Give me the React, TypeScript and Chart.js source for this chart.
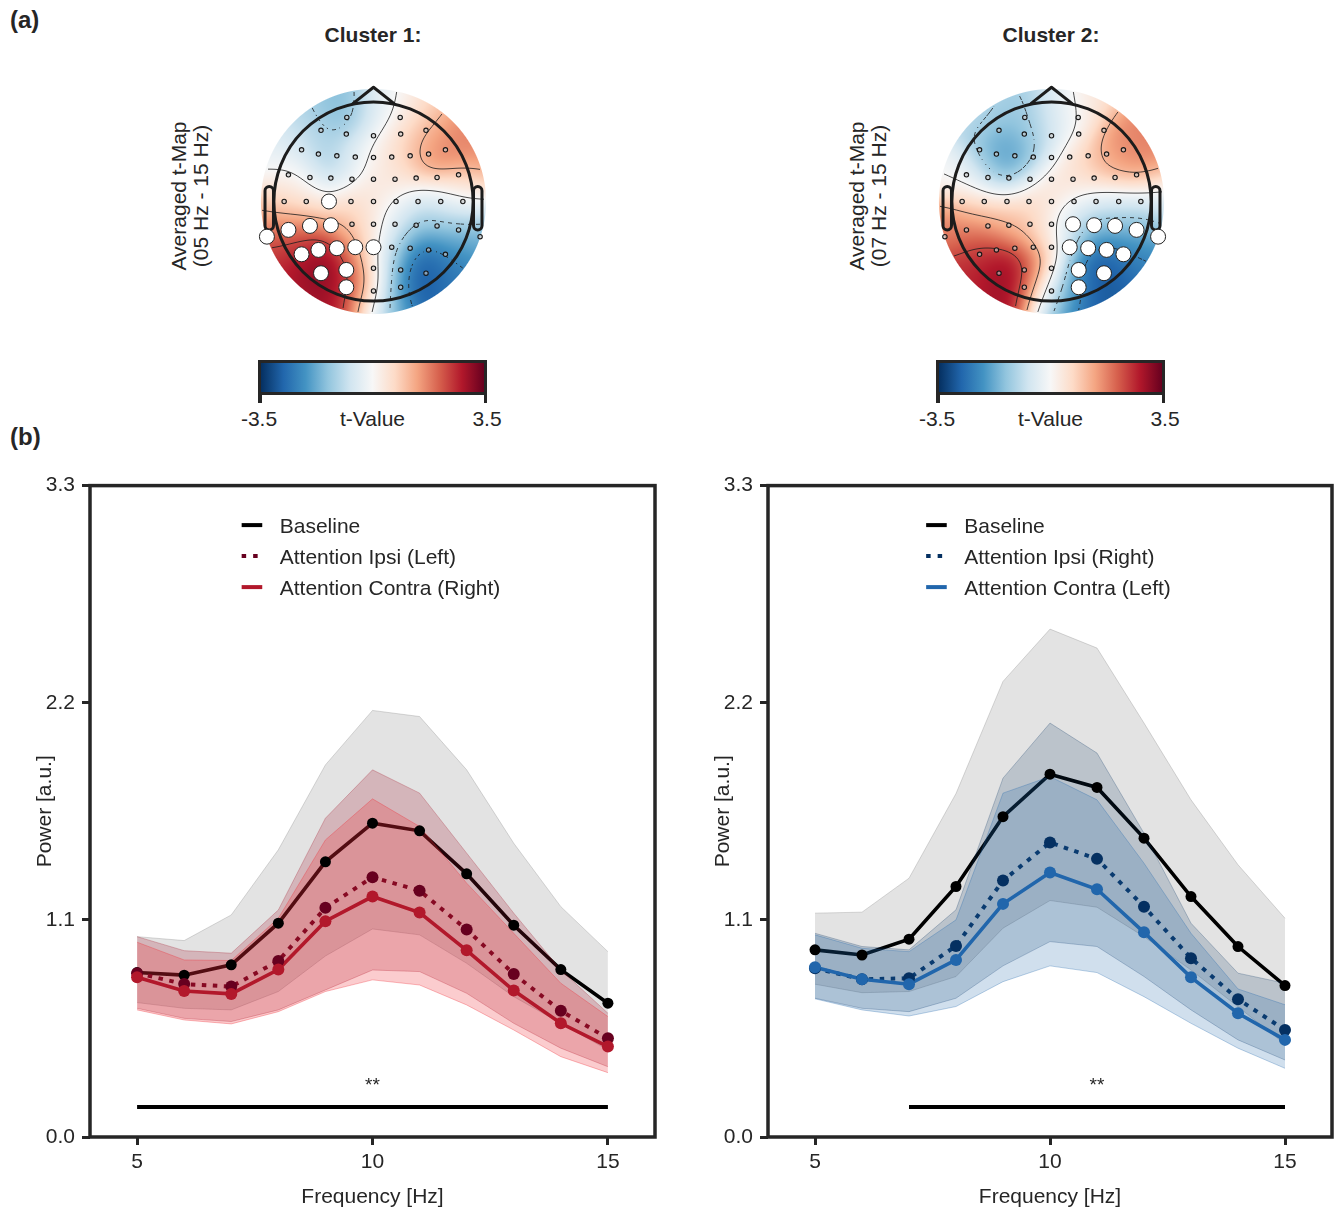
import React, { useEffect, useRef } from "react";
import { Chart, registerables } from "chart.js";
Chart.register(...registerables);

const FONT = "'Liberation Sans', Arial, Helvetica, sans-serif";
const INK = "#262626";

// ---------------- (b) spectra ----------------
const freqs = [5, 6, 7, 8, 9, 10, 11, 12, 13, 14, 15];
const xTicks = [5, 10, 15];
const yTicks = [0, 1.1, 2.2, 3.3];

// Cluster 1 (left hemisphere electrodes)
const c1Baseline = [0.833, 0.82, 0.872, 1.083, 1.394, 1.59, 1.551, 1.333, 1.073, 0.848, 0.678];
const c1Ipsi = [0.83, 0.775, 0.762, 0.892, 1.161, 1.316, 1.248, 1.051, 0.826, 0.639, 0.5];
const c1Contra = [0.809, 0.74, 0.725, 0.848, 1.093, 1.218, 1.137, 0.946, 0.742, 0.576, 0.458];
const c1BaseHi = [1.015, 0.995, 1.125, 1.455, 1.885, 2.161, 2.13, 1.86, 1.488, 1.167, 0.939];
const c1BaseLo = [0.681, 0.652, 0.644, 0.737, 0.917, 1.054, 1.024, 0.88, 0.711, 0.576, 0.441];
const c1IpsiHi = [1.015, 0.944, 0.931, 1.15, 1.615, 1.86, 1.742, 1.438, 1.134, 0.846, 0.627];
const c1IpsiLo = [0.652, 0.601, 0.585, 0.644, 0.745, 0.846, 0.838, 0.728, 0.576, 0.45, 0.356];
const c1ContraHi = [0.987, 0.897, 0.894, 1.108, 1.505, 1.713, 1.573, 1.286, 1.032, 0.779, 0.61];
const c1ContraLo = [0.644, 0.593, 0.573, 0.635, 0.737, 0.796, 0.77, 0.669, 0.542, 0.407, 0.326];

// Cluster 2 (right hemisphere electrodes)
const c2Baseline = [0.948, 0.922, 1.002, 1.269, 1.623, 1.838, 1.771, 1.514, 1.218, 0.965, 0.767];
const c2Ipsi = [0.855, 0.799, 0.804, 0.968, 1.299, 1.492, 1.409, 1.167, 0.906, 0.698, 0.542];
const c2Contra = [0.86, 0.799, 0.774, 0.897, 1.181, 1.34, 1.255, 1.037, 0.809, 0.627, 0.492];
const c2BaseHi = [1.134, 1.139, 1.311, 1.74, 2.308, 2.573, 2.477, 2.097, 1.708, 1.379, 1.108];
const c2BaseLo = [0.774, 0.731, 0.737, 0.813, 1.058, 1.198, 1.164, 1.015, 0.846, 0.66, 0.47];
const c2IpsiHi = [1.032, 0.965, 0.948, 1.151, 1.818, 2.097, 1.945, 1.539, 1.083, 0.83, 0.779];
const c2IpsiLo = [0.703, 0.652, 0.635, 0.703, 0.867, 0.99, 0.965, 0.813, 0.644, 0.492, 0.39];
const c2ContraHi = [1.024, 0.956, 0.939, 1.1, 1.742, 1.826, 1.708, 1.387, 1.032, 0.75, 0.67];
const c2ContraLo = [0.7, 0.644, 0.613, 0.661, 0.787, 0.867, 0.833, 0.711, 0.576, 0.45, 0.348];

const legend1Labels = ["Baseline", "Attention Ipsi (Left)", "Attention Contra (Right)"];
const legend2Labels = ["Baseline", "Attention Ipsi (Right)", "Attention Contra (Left)"];

const sig1Range = [5, 15];
const sig2Range = [7, 15];
const sigY = 0.152;
const starY = 0.235;
const star1X = 10;
const star2X = 11;
const starText = "**";

// ---------------- (a) topomaps ----------------
const rdbuStops = ["#053061", "#2166ac", "#4393c3", "#92c5de", "#d1e5f0", "#f7f7f7", "#fddbc7", "#f4a582", "#d6604d", "#b2182b", "#67001f"];
const cbMin = -3.5;
const cbMax = 3.5;
const contourLevels = [-2.33, -1.17, 0, 1.17, 2.33];

const elecX = [
  -0.268, 0.268,
  -0.527, -0.273, 0, 0.273, 0.527,
  -0.722, -0.553, -0.368, -0.183, 0, 0.183, 0.368, 0.553, 0.722,
  -0.854, -0.638, -0.428, -0.216, 0, 0.216, 0.428, 0.638, 0.854,
  -0.897, -0.675, -0.447, -0.226, 0, 0.226, 0.447, 0.675, 0.897,
  -0.854, -0.638, -0.428, -0.216, 0, 0.216, 0.428, 0.638, 0.854,
  -1.07, -0.722, -0.553, -0.368, -0.183, 0, 0.183, 0.368, 0.553, 0.722, 1.07,
  -0.527, -0.273, 0, 0.273, 0.527,
  -0.273, 0, 0.273,
];
const elecY = [
  0.844, 0.844,
  0.714, 0.677, 0.66, 0.677, 0.714,
  0.519, 0.476, 0.459, 0.446, 0.442, 0.446, 0.459, 0.476, 0.519,
  0.268, 0.241, 0.235, 0.224, 0.224, 0.224, 0.235, 0.241, 0.268,
  0, 0, 0, 0, 0, 0, 0, 0, 0,
  -0.285, -0.245, -0.238, -0.228, -0.228, -0.228, -0.238, -0.245, -0.285,
  -0.353, -0.53, -0.486, -0.469, -0.459, -0.459, -0.459, -0.469, -0.486, -0.53, -0.353,
  -0.72, -0.687, -0.67, -0.687, -0.72,
  -0.861, -0.898, -0.861,
];
const sigElec1 = [27, 34, 35, 36, 43, 44, 45, 46, 47, 48, 54, 55, 59];
const sigElec2 = [39, 40, 41, 42, 49, 50, 51, 52, 53, 57, 58, 61];

// t-value anchor points of the interpolated maps (head units)
const topo1U = [-0.74, -0.4, -0.28, -0.57, -0.9, -1.04, 0.0, 0.13, 0.37, 0.57, 0.84, 1.04, 0.64, 0.44, 0.2, 0.2, 0.0, -0.2, -0.44, -0.67, -0.9, -0.23, 0.0, 0.27, 0.64, 0.94, 0.94,
  0.2, 0.44, 0.77, 1.04, 0.23, 0.5, 0.33, 0.77, 0.17, 0.84, 0.1, 0.05,
  -1.07, -0.67, -0.23, 0.0, -0.74, -1.04, -0.57, -0.3, -0.84, -0.4, -0.17, -0.1, -0.02, 0.02];
const topo1V = [0.94, 1.04, 0.84, 0.67, 0.57, 0.37, 0.84, 1.04, 1.0, 0.9, 0.7, 0.4, 0.44, 0.57, 0.64, 0.3, 0.44, 0.47, 0.34, 0.23, 0.13, 0.13, 0.0, 0.0, 0.0, 0.0, 0.13,
  -0.2, -0.23, -0.23, -0.3, -0.5, -0.64, -0.84, -0.77, -1.04, -0.5, -0.64, -0.27,
  -0.1, 0.0, -0.13, -0.23, -0.34, -0.5, -0.64, -0.7, -0.9, -1.04, -0.37, -0.84, -0.57, -1.04];
const topo1T = [-1.0, -1.5, -1.8, -0.9, -0.5, -0.2, -0.6, -0.3, 0.3, 1.0, 1.8, 1.7, 1.9, 1.2, 0.6, 0.5, 0.3, -0.4, -1.9, 0.0, 0.5, 0.2, 0.6, 0.3, -0.2, -0.1, 0.7,
  -0.9, -2.0, -1.5, -1.7, -2.6, -3.2, -3.2, -2.5, -2.6, -2.2, -1.1, -0.1,
  1.3, 0.7, 1.0, 0.6, 2.3, 2.5, 3.2, 3.4, 2.8, 3.0, 2.2, 2.4, 1.3, 0.5];

const topo2U = [-0.27, -0.5, -0.77, -0.54, -0.44, -0.27, -0.7, -0.97, -0.07, 0.0, 0.23, 0.44, 0.74, 0.9, 0.57, 0.23, 0.0, -0.23, 0.0, 0.3, 0.64, 1.04,
  0.23, 0.1, 0.5, 0.9, 0.37, 0.23, 0.57, 0.84, 0.08,
  -1.0, -0.77, -0.5, -0.23, -0.7, -0.27, -0.54, -0.9, -0.1, -0.03, 0.03];
const topo2V = [0.85, 1.02, 0.82, 0.55, 0.32, 0.49, 0.25, 0.28, 0.65, 0.95, 0.89, 1.02, 0.72, 0.35, 0.39, 0.42, 0.22, 0.08, -0.05, 0.02, -0.02, 0.02,
  -0.22, -0.35, -0.28, -0.22, -0.59, -0.89, -0.79, -0.52, -0.85,
  -0.25, -0.02, -0.12, -0.22, -0.45, -0.69, -0.79, -0.79, -0.45, -0.79, -0.28];
const topo2T = [-1.6, -1.1, -0.9, -1.8, -2.5, -1.9, -0.7, 0.0, -0.6, -0.5, 0.0, 0.5, 1.8, 1.8, 1.4, 0.6, 0.5, 0.5, 0.7, 0.4, -0.3, -0.2,
  -1.6, -0.9, -2.1, -1.7, -3.3, -3.2, -2.9, -2.4, -1.6,
  1.8, 1.0, 1.1, 1.2, 2.5, 3.4, 3.0, 2.6, 2.0, 1.2, 0.2];

const DISK_R = 1.13;
const RBF_SIGMA = 0.2;

function hexRgb(h: string): number[] {
  const n = parseInt(h.slice(1), 16);
  return [(n >> 16) & 255, (n >> 8) & 255, n & 255];
}
const RDBU_RGB = rdbuStops.map(hexRgb);
function tColor(t: number): number[] {
  const s = Math.min(1, Math.max(0, (t - cbMin) / (cbMax - cbMin))) * (RDBU_RGB.length - 1);
  const i = Math.min(RDBU_RGB.length - 2, Math.floor(s));
  const f = s - i;
  const a = RDBU_RGB[i];
  const b = RDBU_RGB[i + 1];
  return [a[0] + (b[0] - a[0]) * f, a[1] + (b[1] - a[1]) * f, a[2] + (b[2] - a[2]) * f];
}
function fieldAt(u: number, v: number, U: number[], V: number[], T: number[]): number {
  let sw = 1e-30;
  let st = 0;
  const k = 1 / (2 * RBF_SIGMA * RBF_SIGMA);
  for (let i = 0; i < U.length; i++) {
    const dx = u - U[i];
    const dy = v - V[i];
    const w = Math.exp(-(dx * dx + dy * dy) * k);
    sw += w;
    st += w * T[i];
  }
  return st / sw;
}

function makeTopoPlugin(U: number[], V: number[], T: number[]) {
  return {
    id: "topoField",
    beforeDatasetsDraw(chart: any) {
      const { ctx, chartArea: ca, scales } = chart;
      const xs = scales.x;
      const ys = scales.y;
      const cxp = xs.getPixelForValue(0);
      const cyp = ys.getPixelForValue(0);
      const ppu = xs.getPixelForValue(1) - cxp;
      const W = Math.round(ca.right - ca.left);
      const H = Math.round(ca.bottom - ca.top);
      const off = document.createElement("canvas");
      off.width = W;
      off.height = H;
      const octx = off.getContext("2d")!;
      const img = octx.createImageData(W, H);
      for (let j = 0; j < H; j++) {
        const v = (cyp - (ca.top + j + 0.5)) / ppu;
        for (let i = 0; i < W; i++) {
          const u = (ca.left + i + 0.5 - cxp) / ppu;
          const r = Math.sqrt(u * u + v * v);
          const a = Math.max(0, Math.min(1, (DISK_R - r) * ppu + 0.5));
          if (a <= 0) continue;
          const c = tColor(fieldAt(u, v, U, V, T));
          const k = (j * W + i) * 4;
          img.data[k] = c[0];
          img.data[k + 1] = c[1];
          img.data[k + 2] = c[2];
          img.data[k + 3] = Math.round(a * 255);
        }
      }
      octx.putImageData(img, 0, 0);
      ctx.drawImage(off, ca.left, ca.top);

      // contour lines (marching squares)
      const step = 2;
      const nx = Math.floor(W / step) + 1;
      const ny = Math.floor(H / step) + 1;
      const g = new Float32Array(nx * ny);
      for (let j = 0; j < ny; j++) {
        for (let i = 0; i < nx; i++) {
          const u = (ca.left + i * step - cxp) / ppu;
          const v = (cyp - (ca.top + j * step)) / ppu;
          g[j * nx + i] = fieldAt(u, v, U, V, T);
        }
      }
      ctx.save();
      ctx.lineWidth = 0.9;
      ctx.strokeStyle = "rgba(30,30,30,0.9)";
      for (const L of contourLevels) {
        const dashed = L < 0;
        ctx.beginPath();
        for (let j = 0; j < ny - 1; j++) {
          for (let i = 0; i < nx - 1; i++) {
            const px = ca.left + i * step;
            const py = ca.top + j * step;
            const uc = (px + step / 2 - cxp) / ppu;
            const vc = (cyp - (py + step / 2)) / ppu;
            if (uc * uc + vc * vc > (DISK_R - 0.015) * (DISK_R - 0.015)) continue;
            if (dashed && (Math.floor(px / 4) + Math.floor(py / 4)) % 2 === 1) continue;
            const a = g[j * nx + i];
            const b = g[j * nx + i + 1];
            const c = g[(j + 1) * nx + i + 1];
            const d = g[(j + 1) * nx + i];
            const pts: number[][] = [];
            if ((a - L) * (b - L) < 0) pts.push([px + (step * (L - a)) / (b - a), py]);
            if ((b - L) * (c - L) < 0) pts.push([px + step, py + (step * (L - b)) / (c - b)]);
            if ((d - L) * (c - L) < 0) pts.push([px + (step * (L - d)) / (c - d), py + step]);
            if ((a - L) * (d - L) < 0) pts.push([px, py + (step * (L - a)) / (d - a)]);
            if (pts.length >= 2) {
              ctx.moveTo(pts[0][0], pts[0][1]);
              ctx.lineTo(pts[1][0], pts[1][1]);
              if (pts.length === 4) {
                ctx.moveTo(pts[2][0], pts[2][1]);
                ctx.lineTo(pts[3][0], pts[3][1]);
              }
            }
          }
        }
        ctx.stroke();
      }
      ctx.restore();

      // head outline, nose, ears
      ctx.save();
      ctx.strokeStyle = "#1c1c1c";
      ctx.lineWidth = 3;
      ctx.lineJoin = "round";
      ctx.beginPath();
      (ctx as any).roundRect(cxp - 1.089 * ppu, cyp - 0.15 * ppu, 0.085 * ppu, 0.435 * ppu, 0.042 * ppu);
      ctx.stroke();
      ctx.beginPath();
      (ctx as any).roundRect(cxp + 1.004 * ppu, cyp - 0.15 * ppu, 0.085 * ppu, 0.435 * ppu, 0.042 * ppu);
      ctx.stroke();
      ctx.beginPath();
      ctx.moveTo(cxp - 0.21 * ppu, cyp - 0.98 * ppu);
      ctx.lineTo(cxp, cyp - 1.147 * ppu);
      ctx.lineTo(cxp + 0.21 * ppu, cyp - 0.98 * ppu);
      ctx.stroke();
      ctx.beginPath();
      ctx.arc(cxp, cyp, ppu, 0, Math.PI * 2);
      ctx.stroke();
      ctx.restore();
    },
  };
}

function TopoMap({ cx, cy, U, V, T, sig }: { cx: number; cy: number; U: number[]; V: number[]; T: number[]; sig: number[] }) {
  const ref = useRef<HTMLCanvasElement>(null);
  useEffect(() => {
    const small = elecX.map((x, i) => ({ x, y: elecY[i] })).filter((_, i) => !sig.includes(i));
    const big = elecX.map((x, i) => ({ x, y: elecY[i] })).filter((_, i) => sig.includes(i));
    const chart = new Chart(ref.current!, {
      type: "scatter",
      data: {
        datasets: [
          { data: small, pointRadius: 2.2, pointBorderWidth: 1.1, pointBorderColor: "#161616", pointBackgroundColor: "rgba(200,200,200,0.6)", clip: false, order: 2 } as any,
          { data: big, pointRadius: 7.5, pointBorderWidth: 1, pointBorderColor: "#222", pointBackgroundColor: "#ffffff", clip: false, order: 1 } as any,
        ],
      },
      options: {
        responsive: false,
        animation: false,
        devicePixelRatio: 1,
        events: [],
        layout: { padding: 0, autoPadding: false },
        scales: {
          x: { type: "linear", min: -1.3, max: 1.3, display: false },
          y: { type: "linear", min: -1.3, max: 1.3, display: false },
        },
        plugins: { legend: { display: false }, tooltip: { enabled: false }, colors: { enabled: false } } as any,
      } as any,
      plugins: [makeTopoPlugin(U, V, T)],
    });
    return () => chart.destroy();
  }, []);
  return <canvas ref={ref} width={259} height={259} style={{ position: "absolute", left: cx - 129.5, top: cy - 129.5, width: 259, height: 259 }} />;
}

type PanelData = {
  baseline: number[]; ipsi: number[]; contra: number[];
  baseHi: number[]; baseLo: number[]; ipsiHi: number[]; ipsiLo: number[]; contraHi: number[]; contraLo: number[];
  ipsiColor: string; contraColor: string; ipsiFill: string; ipsiEdge: string; contraFill: string; contraEdge: string;
  labels: string[]; sig: number[]; starX: number;
};

const CANVAS_TOP = 466;
const CANVAS_H = 741;

function SpectrumChart({ left, width, padRight, p }: { left: number; width: number; padRight: number; p: PanelData }) {
  const ref = useRef<HTMLCanvasElement>(null);
  useEffect(() => {
    const pts = (a: number[]) => freqs.map((f, i) => ({ x: f, y: a[i] }));
    const grayFill = "rgba(128,128,128,0.22)";
    const grayEdge = "rgba(128,128,128,0.30)";
    const lineOpts = { pointRadius: 0, tension: 0, fill: false };
    const datasets: any[] = [
      { ...lineOpts, data: pts(p.baseHi), fill: 1, backgroundColor: grayFill, borderColor: grayEdge, borderWidth: 1, order: 90 },
      { ...lineOpts, data: pts(p.baseLo), borderColor: grayEdge, borderWidth: 1, order: 91 },
      { ...lineOpts, data: pts(p.baseline), borderColor: "#000000", borderWidth: 3.6, order: 80 },
      { ...lineOpts, data: pts(p.ipsiHi), fill: 4, backgroundColor: p.ipsiFill, borderColor: p.ipsiEdge, borderWidth: 1, order: 70 },
      { ...lineOpts, data: pts(p.ipsiLo), borderColor: p.ipsiEdge, borderWidth: 1, order: 71 },
      { ...lineOpts, data: pts(p.ipsi), borderColor: p.ipsiColor, borderWidth: 4, borderDash: [4.5, 6.5], borderCapStyle: "butt", order: 60 },
      { ...lineOpts, data: pts(p.contraHi), fill: 7, backgroundColor: p.contraFill, borderColor: p.contraEdge, borderWidth: 1, order: 50 },
      { ...lineOpts, data: pts(p.contraLo), borderColor: p.contraEdge, borderWidth: 1, order: 51 },
      { ...lineOpts, data: pts(p.contra), borderColor: p.contraColor, borderWidth: 3.6, order: 40 },
      { ...lineOpts, data: [{ x: p.sig[0], y: sigY }, { x: p.sig[1], y: sigY }], borderColor: "#000000", borderWidth: 4, order: 30 },
      { data: pts(p.baseline), showLine: false, pointRadius: 5.5, pointBorderWidth: 0, pointBackgroundColor: "#000000", pointBorderColor: "#000000", order: 3 },
      { data: pts(p.ipsi), showLine: false, pointRadius: 6, pointBorderWidth: 0, pointBackgroundColor: p.ipsiColor, pointBorderColor: p.ipsiColor, order: 2 },
      { data: pts(p.contra), showLine: false, pointRadius: 6, pointBorderWidth: 0, pointBackgroundColor: p.contraColor, pointBorderColor: p.contraColor, order: 1 },
    ];
    const legendItems = [
      { label: p.labels[0], color: "#000000", dash: [] as number[] },
      { label: p.labels[1], color: p.ipsiColor, dash: [4.5, 7] },
      { label: p.labels[2], color: p.contraColor, dash: [] as number[] },
    ];
    const overlay = {
      id: "overlay",
      afterDraw(chart: any) {
        const { ctx, chartArea: ca, scales } = chart;
        ctx.save();
        ctx.lineWidth = 3.5;
        ctx.strokeStyle = INK;
        ctx.strokeRect(ca.left, ca.top, ca.right - ca.left, ca.bottom - ca.top);
        ctx.fillStyle = INK;
        ctx.font = `21px ${FONT}`;
        ctx.textAlign = "center";
        ctx.textBaseline = "alphabetic";
        ctx.fillText("Frequency [Hz]", (ca.left + ca.right) / 2, ca.bottom + 65.7);
        ctx.save();
        ctx.translate(ca.left - 39, (ca.top + ca.bottom) / 2);
        ctx.rotate(-Math.PI / 2);
        ctx.fillText("Power [a.u.]", 0, 0);
        ctx.restore();
        // significance stars
        ctx.font = `19px ${FONT}`;
        ctx.fillText(starText, scales.x.getPixelForValue(p.starX), scales.y.getPixelForValue(starY));
        // legend
        ctx.font = `21px ${FONT}`;
        const maxW = Math.max(...legendItems.map((it) => ctx.measureText(it.label).width));
        const lineLen = 20.6;
        const gap = 17.5;
        const x0 = (ca.left + ca.right) / 2 - (lineLen + gap + maxW) / 2 - 1.5;
        legendItems.forEach((it, i) => {
          const y = ca.top + 39.5 + i * 31;
          ctx.beginPath();
          ctx.setLineDash(it.dash);
          ctx.lineCap = "butt";
          ctx.lineWidth = 4;
          ctx.strokeStyle = it.color;
          ctx.moveTo(x0, y);
          ctx.lineTo(x0 + lineLen, y);
          ctx.stroke();
          ctx.setLineDash([]);
          ctx.textAlign = "left";
          ctx.fillStyle = INK;
          ctx.fillText(it.label, x0 + lineLen + gap, y + 7.5);
        });
        ctx.restore();
      },
    };
    const tickFont = { family: FONT, size: 21 };
    const chart = new Chart(ref.current!, {
      type: "line",
      data: { datasets },
      options: {
        responsive: false,
        animation: false,
        devicePixelRatio: 1,
        events: [],
        layout: { padding: { top: 16, right: padRight, left: 0, bottom: 0 }, autoPadding: false },
        scales: {
          x: {
            type: "linear",
            min: 4,
            max: 16,
            afterBuildTicks: (s: any) => { s.ticks = xTicks.map((v) => ({ value: v })); },
            afterFit: (s: any) => { s.height = 70; },
            grid: { display: true, drawOnChartArea: false, drawTicks: true, tickLength: 8, tickWidth: 3, tickColor: INK, color: INK },
            border: { display: false },
            ticks: { font: tickFont, color: INK, padding: 5, maxRotation: 0, autoSkip: false, callback: (v: any) => String(v) },
          },
          y: {
            type: "linear",
            min: 0,
            max: 3.3,
            afterBuildTicks: (s: any) => { s.ticks = yTicks.map((v) => ({ value: v })); },
            afterFit: (s: any) => { s.width = 90; },
            grid: { display: true, drawOnChartArea: false, drawTicks: true, tickLength: 8, tickWidth: 3, tickColor: INK, color: INK },
            border: { display: false },
            ticks: { font: tickFont, color: INK, padding: 7, autoSkip: false, callback: (v: any) => Number(v).toFixed(1) },
          },
        } as any,
        plugins: { legend: { display: false }, tooltip: { enabled: false }, colors: { enabled: false } } as any,
      } as any,
      plugins: [overlay],
    });
    return () => chart.destroy();
  }, []);
  return <canvas ref={ref} width={width} height={CANVAS_H} style={{ position: "absolute", left, top: CANVAS_TOP, width, height: CANVAS_H }} />;
}

function Txt({ x, y, children, bold, center, size = 21 }: { x: number; y: number; children: React.ReactNode; bold?: boolean; center?: boolean; size?: number }) {
  return (
    <div style={{ position: "absolute", left: x, top: y, fontSize: size, lineHeight: `${size}px`, fontWeight: bold ? 700 : 400, whiteSpace: "nowrap", transform: center ? "translateX(-50%)" : undefined, color: INK }}>
      {children}
    </div>
  );
}

function TopoPanel({ dx, title, band, U, V, T, sig }: { dx: number; title: string; band: string; U: number[]; V: number[]; T: number[]; sig: number[] }) {
  const grad = `linear-gradient(to right, ${rdbuStops.join(", ")})`;
  return (
    <>
      <Txt x={373 + dx} y={23.7} bold center>{title}</Txt>
      <div style={{ position: "absolute", left: 189.5 + dx - 110, top: 196 - 22, width: 220, height: 44, transform: "rotate(-90deg)", textAlign: "center", fontSize: 21, lineHeight: "22px", color: INK, whiteSpace: "nowrap" }}>
        <div>Averaged t-Map</div>
        <div>{band}</div>
      </div>
      <TopoMap cx={373.5 + dx} cy={201.5} U={U} V={V} T={T} sig={sig} />
      <div style={{ position: "absolute", left: 258 + dx, top: 360, width: 229, height: 35, boxSizing: "border-box", border: `3.5px solid ${INK}`, background: grad }} />
      <div style={{ position: "absolute", left: 258 + dx, top: 394, width: 3.5, height: 9, background: INK }} />
      <div style={{ position: "absolute", left: 483.5 + dx, top: 394, width: 3.5, height: 9, background: INK }} />
      <Txt x={259 + dx} y={408} center>{String(cbMin)}</Txt>
      <Txt x={372.5 + dx} y={408} center>t-Value</Txt>
      <Txt x={487 + dx} y={408} center>{String(cbMax)}</Txt>
    </>
  );
}

const panel1: PanelData = {
  baseline: c1Baseline, ipsi: c1Ipsi, contra: c1Contra,
  baseHi: c1BaseHi, baseLo: c1BaseLo, ipsiHi: c1IpsiHi, ipsiLo: c1IpsiLo, contraHi: c1ContraHi, contraLo: c1ContraLo,
  ipsiColor: "#67001f", contraColor: "#b2182b",
  ipsiFill: "rgba(160,20,40,0.22)", ipsiEdge: "rgba(160,20,40,0.28)",
  contraFill: "rgba(240,40,50,0.24)", contraEdge: "rgba(240,40,50,0.32)",
  labels: legend1Labels, sig: sig1Range, starX: star1X,
};
const panel2: PanelData = {
  baseline: c2Baseline, ipsi: c2Ipsi, contra: c2Contra,
  baseHi: c2BaseHi, baseLo: c2BaseLo, ipsiHi: c2IpsiHi, ipsiLo: c2IpsiLo, contraHi: c2ContraHi, contraLo: c2ContraLo,
  ipsiColor: "#053061", contraColor: "#2166ac",
  ipsiFill: "rgba(5,48,97,0.18)", ipsiEdge: "rgba(5,48,97,0.25)",
  contraFill: "rgba(33,102,172,0.21)", contraEdge: "rgba(33,102,172,0.3)",
  labels: legend2Labels, sig: sig2Range, starX: star2X,
};

export default function App() {
  return (
    <div style={{ position: "absolute", left: 0, top: 0, width: 1337, height: 1207, background: "#ffffff", fontFamily: FONT, overflow: "hidden" }}>
      <Txt x={10} y={8} bold size={24}>(a)</Txt>
      <Txt x={10} y={425} bold size={24}>(b)</Txt>
      <TopoPanel dx={0} title="Cluster 1:" band="(05 Hz - 15 Hz)" U={topo1U} V={topo1V} T={topo1T} sig={sigElec1} />
      <TopoPanel dx={678} title="Cluster 2:" band="(07 Hz - 15 Hz)" U={topo2U} V={topo2V} T={topo2T} sig={sigElec2} />
      <SpectrumChart left={0} width={668} padRight={13} p={panel1} />
      <SpectrumChart left={678} width={659} padRight={5} p={panel2} />
    </div>
  );
}
